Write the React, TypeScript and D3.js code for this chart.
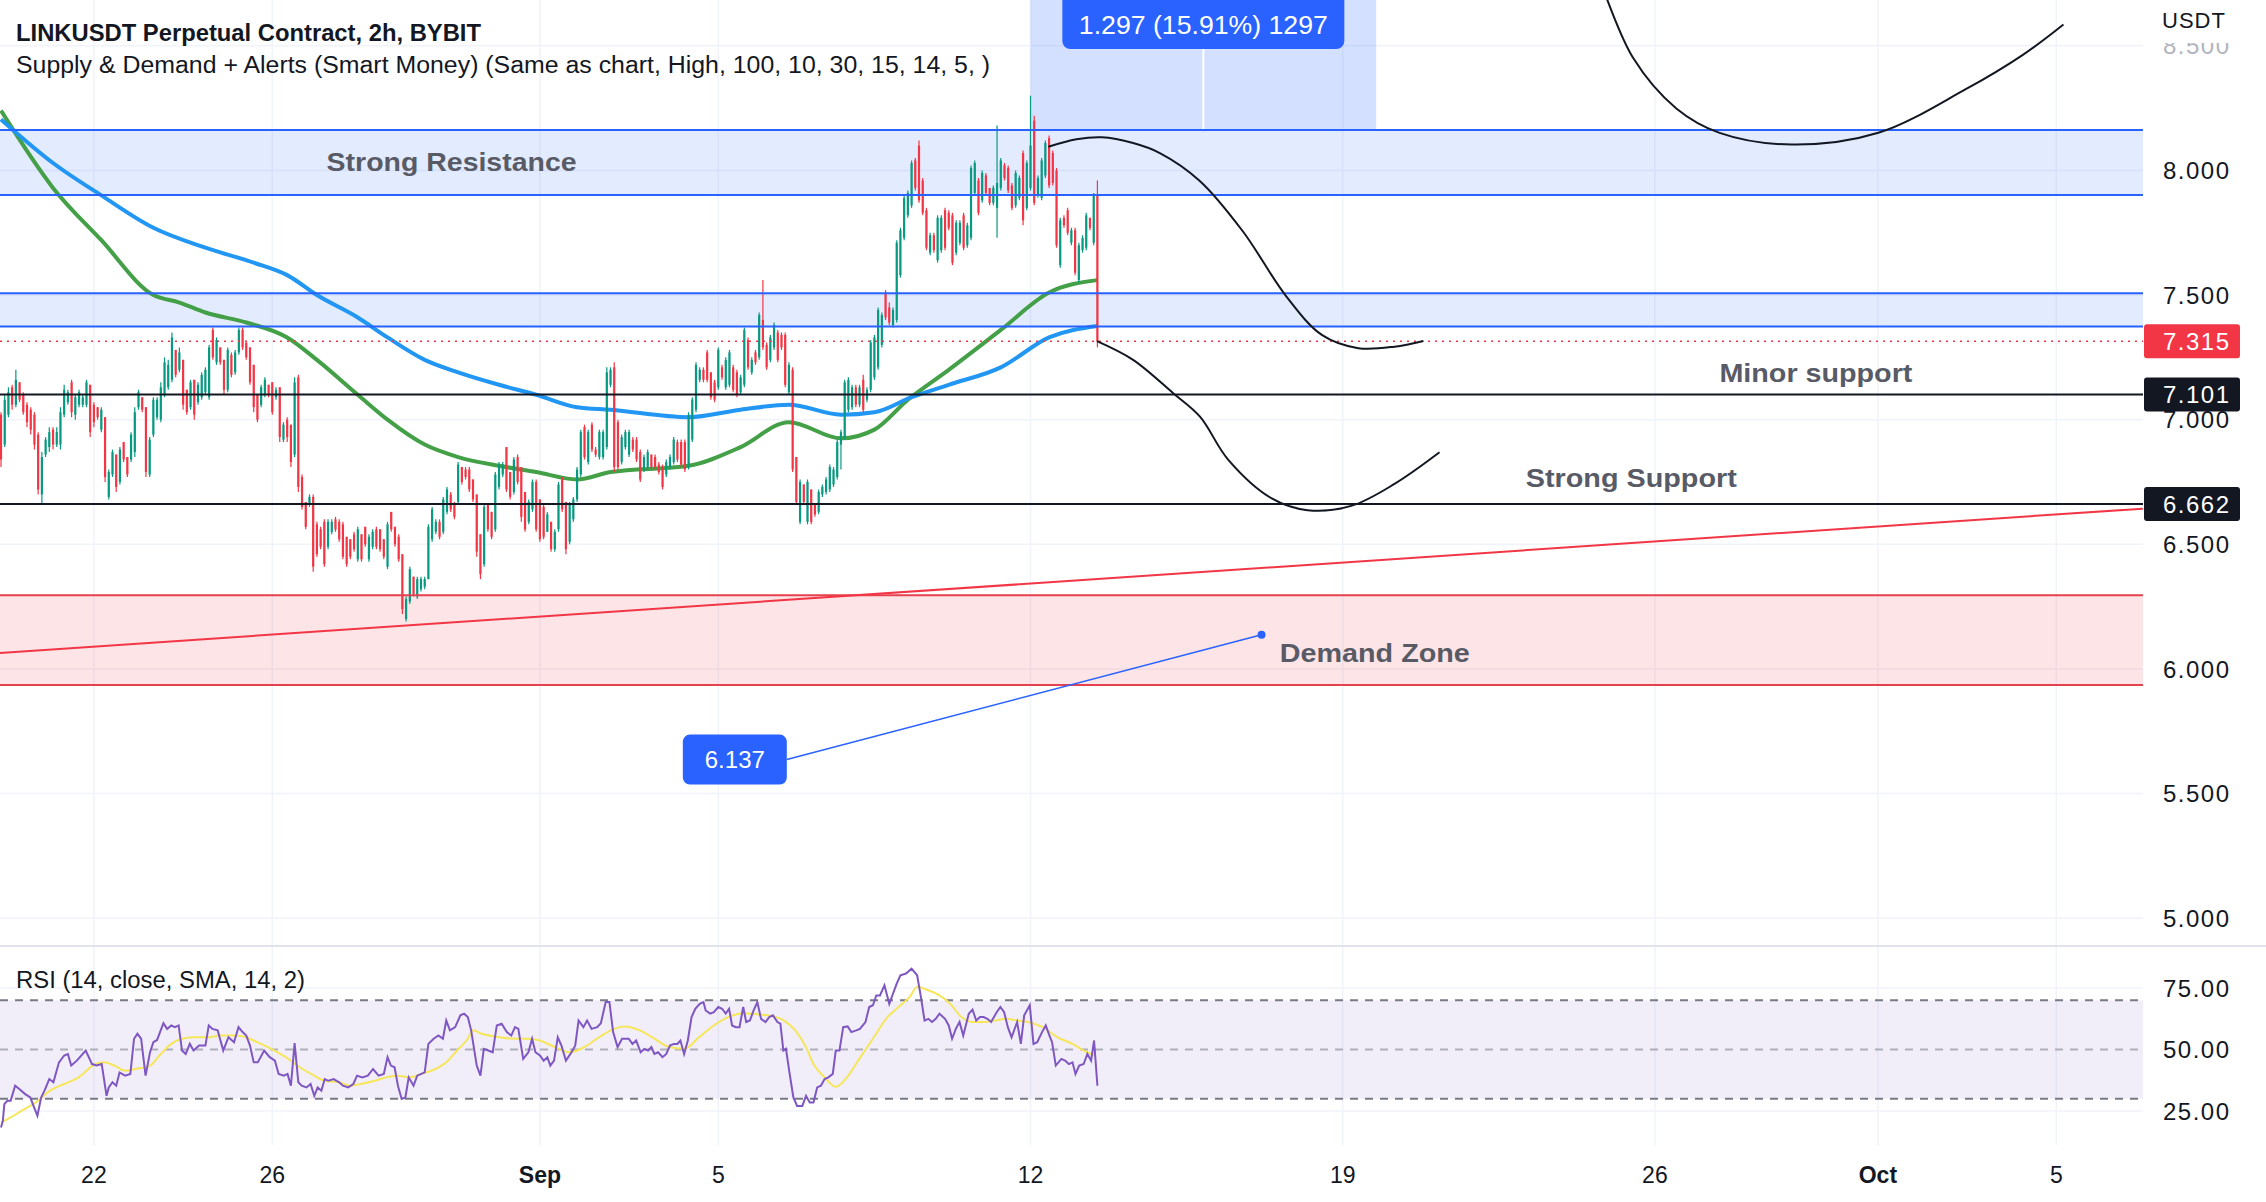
import { useEffect, useRef } from "react";
import * as d3 from "d3";

// ---------- data ----------
// 2h candles, first one opens 2023-08-19 22:00 UTC. [open, high, low, close]
const CANDLE_START = Date.UTC(2023, 7, 19, 22);
const CANDLES: [number, number, number, number][] = [
  [7.02,7.03,6.81,6.84],[6.90,7.10,6.89,7.08],[7.02,7.13,7.01,7.11],[7.13,7.14,7.04,7.06],[7.06,7.20,7.05,7.16],
  [7.15,7.15,7.07,7.08],[7.10,7.11,7.02,7.03],[7.06,7.07,6.97,6.99],[7.04,7.05,6.94,6.96],[7.02,7.03,6.88,6.90],
  [6.94,6.95,6.70,6.72],[6.70,6.87,6.66,6.85],[6.86,6.93,6.85,6.92],[6.89,6.97,6.87,6.95],[6.96,6.97,6.88,6.90],
  [6.90,6.97,6.89,6.95],[6.90,7.05,6.88,7.03],[7.02,7.14,7.01,7.12],[7.07,7.12,7.06,7.11],[7.15,7.16,7.01,7.03],
  [7.02,7.10,7.00,7.09],[7.06,7.12,7.05,7.11],[7.06,7.10,7.05,7.09],[7.06,7.16,7.05,7.15],[7.14,7.14,6.93,6.95],
  [7.06,7.07,6.97,6.99],[7.05,7.05,7.00,7.01],[6.96,7.05,6.95,7.04],[7.01,7.01,6.75,6.77],[6.69,6.80,6.68,6.79],
  [6.78,6.88,6.77,6.87],[6.86,6.86,6.71,6.73],[6.75,6.89,6.74,6.88],[6.91,6.91,6.83,6.84],[6.85,6.85,6.77,6.78],
  [6.84,6.95,6.83,6.94],[6.87,7.05,6.85,7.03],[7.05,7.12,7.04,7.11],[7.09,7.09,7.03,7.04],[7.05,7.05,6.77,6.79],
  [6.78,6.93,6.77,6.92],[6.94,7.09,6.93,7.08],[7.01,7.09,7.00,7.08],[7.00,7.15,6.99,7.13],[7.10,7.25,7.09,7.23],
  [7.13,7.24,7.12,7.22],[7.16,7.35,7.15,7.33],[7.28,7.28,7.17,7.18],[7.20,7.29,7.19,7.27],[7.24,7.24,7.04,7.06],
  [7.12,7.12,7.02,7.03],[7.05,7.16,7.04,7.15],[7.16,7.16,7.00,7.02],[7.07,7.15,7.06,7.14],[7.09,7.19,7.08,7.18],
  [7.11,7.21,7.10,7.20],[7.09,7.30,7.08,7.29],[7.36,7.37,7.24,7.25],[7.23,7.33,7.22,7.32],[7.29,7.29,7.22,7.23],
  [7.24,7.24,7.10,7.12],[7.12,7.29,7.11,7.28],[7.26,7.27,7.17,7.18],[7.19,7.28,7.18,7.27],[7.27,7.37,7.26,7.36],
  [7.36,7.37,7.28,7.29],[7.31,7.31,7.24,7.25],[7.29,7.29,7.14,7.15],[7.22,7.22,7.03,7.05],[7.10,7.10,6.99,7.00],
  [7.06,7.14,7.05,7.13],[7.10,7.17,7.09,7.16],[7.14,7.14,7.09,7.10],[7.15,7.15,7.02,7.03],[7.09,7.13,7.08,7.12],
  [7.13,7.13,6.91,6.93],[6.92,6.99,6.91,6.98],[7.00,7.01,6.91,6.93],[6.98,6.98,6.81,6.83],[6.86,7.17,6.85,7.15],
  [7.17,7.18,6.71,6.73],[6.77,6.78,6.64,6.65],[6.67,6.67,6.56,6.57],[6.66,6.70,6.65,6.69],[6.69,6.70,6.39,6.41],
  [6.58,6.59,6.45,6.46],[6.56,6.57,6.48,6.49],[6.59,6.60,6.41,6.42],[6.49,6.60,6.48,6.59],[6.55,6.60,6.54,6.59],
  [6.60,6.61,6.55,6.56],[6.59,6.60,6.51,6.52],[6.58,6.59,6.44,6.45],[6.53,6.53,6.41,6.42],[6.52,6.52,6.44,6.45],
  [6.54,6.55,6.47,6.48],[6.44,6.57,6.43,6.56],[6.54,6.54,6.43,6.44],[6.57,6.57,6.49,6.50],[6.44,6.54,6.43,6.53],
  [6.49,6.56,6.48,6.55],[6.56,6.57,6.48,6.49],[6.56,6.56,6.47,6.48],[6.52,6.52,6.44,6.45],[6.41,6.59,6.40,6.58],
  [6.63,6.63,6.55,6.56],[6.57,6.57,6.49,6.50],[6.53,6.54,6.43,6.44],[6.46,6.46,6.22,6.24],[6.20,6.29,6.19,6.28],
  [6.27,6.41,6.26,6.40],[6.37,6.37,6.29,6.30],[6.29,6.37,6.28,6.36],[6.32,6.37,6.31,6.36],[6.33,6.37,6.32,6.36],
  [6.36,6.58,6.36,6.57],[6.52,6.65,6.51,6.64],[6.55,6.60,6.54,6.59],[6.59,6.60,6.52,6.53],[6.55,6.69,6.54,6.68],
  [6.63,6.73,6.62,6.72],[6.70,6.71,6.63,6.64],[6.66,6.67,6.60,6.61],[6.67,6.83,6.66,6.82],[6.81,6.81,6.74,6.75],
  [6.80,6.81,6.76,6.77],[6.80,6.81,6.71,6.72],[6.76,6.76,6.67,6.68],[6.70,6.70,6.45,6.47],[6.54,6.54,6.36,6.38],
  [6.42,6.66,6.41,6.65],[6.66,6.66,6.55,6.56],[6.63,6.63,6.52,6.53],[6.56,6.79,6.55,6.78],[6.73,6.83,6.72,6.82],
  [6.78,6.83,6.77,6.82],[6.89,6.89,6.71,6.72],[6.79,6.79,6.68,6.69],[6.71,6.85,6.70,6.84],[6.85,6.86,6.74,6.75],
  [6.81,6.81,6.59,6.61],[6.71,6.71,6.55,6.56],[6.59,6.68,6.58,6.67],[6.64,6.76,6.63,6.75],[6.75,6.76,6.55,6.56],
  [6.68,6.68,6.51,6.52],[6.65,6.66,6.52,6.53],[6.55,6.63,6.55,6.62],[6.59,6.59,6.47,6.48],[6.48,6.56,6.47,6.55],
  [6.56,6.75,6.55,6.74],[6.77,6.77,6.63,6.64],[6.67,6.67,6.46,6.48],[6.51,6.67,6.50,6.66],[6.60,6.69,6.59,6.68],
  [6.68,6.81,6.67,6.80],[6.78,6.96,6.77,6.95],[6.97,6.98,6.84,6.85],[6.83,6.96,6.82,6.95],[6.98,6.99,6.87,6.88],
  [6.88,6.89,6.85,6.86],[6.85,6.96,6.84,6.95],[6.85,6.96,6.84,6.95],[6.89,7.21,6.88,7.19],[7.14,7.21,7.13,7.20],
  [7.21,7.23,6.79,6.81],[6.99,7.00,6.80,6.81],[6.83,6.94,6.82,6.93],[6.89,6.96,6.88,6.95],[6.86,6.96,6.85,6.95],
  [6.92,6.93,6.87,6.88],[6.92,6.93,6.83,6.84],[6.87,6.88,6.75,6.76],[6.80,6.86,6.79,6.85],[6.81,6.88,6.80,6.87],
  [6.86,6.86,6.80,6.81],[6.85,6.86,6.80,6.81],[6.82,6.83,6.78,6.79],[6.81,6.82,6.72,6.73],[6.78,6.84,6.77,6.83],
  [6.81,6.86,6.80,6.85],[6.83,6.93,6.82,6.92],[6.91,6.92,6.83,6.84],[6.91,6.92,6.81,6.82],[6.91,6.92,6.79,6.80],
  [6.81,7.03,6.80,7.02],[6.92,7.09,6.91,7.08],[7.04,7.23,7.03,7.22],[7.16,7.21,7.15,7.20],[7.20,7.21,7.15,7.16],
  [7.27,7.28,7.15,7.16],[7.19,7.19,7.08,7.09],[7.15,7.16,7.07,7.08],[7.13,7.29,7.12,7.28],[7.21,7.22,7.16,7.17],
  [7.13,7.25,7.12,7.24],[7.14,7.28,7.13,7.27],[7.21,7.22,7.11,7.12],[7.19,7.20,7.09,7.10],[7.11,7.18,7.10,7.17],
  [7.14,7.37,7.13,7.36],[7.32,7.33,7.20,7.21],[7.19,7.25,7.18,7.24],[7.27,7.28,7.22,7.23],[7.25,7.43,7.24,7.42],
  [7.40,7.56,7.28,7.29],[7.30,7.31,7.20,7.21],[7.24,7.34,7.23,7.33],[7.29,7.39,7.28,7.38],[7.35,7.36,7.23,7.24],
  [7.34,7.35,7.28,7.29],[7.34,7.35,7.13,7.14],[7.11,7.23,7.10,7.22],[7.20,7.21,6.79,6.80],[6.85,6.85,6.66,6.67],
  [6.59,6.76,6.58,6.75],[6.74,6.74,6.66,6.67],[6.59,6.76,6.58,6.75],[6.72,6.72,6.58,6.59],[6.66,6.66,6.61,6.62],
  [6.63,6.72,6.62,6.71],[6.70,6.74,6.69,6.73],[6.71,6.77,6.70,6.76],[6.72,6.82,6.71,6.81],[6.74,6.81,6.73,6.80],
  [6.77,6.92,6.76,6.91],[6.90,6.96,6.80,6.95],[6.93,7.16,6.92,7.15],[7.04,7.17,7.03,7.16],[7.05,7.14,7.04,7.13],
  [7.13,7.14,7.05,7.06],[7.06,7.14,7.05,7.13],[7.16,7.18,7.03,7.04],[7.08,7.13,7.07,7.12],[7.12,7.32,7.11,7.31],
  [7.17,7.34,7.16,7.33],[7.21,7.45,7.20,7.44],[7.30,7.43,7.29,7.42],[7.51,7.52,7.40,7.41],[7.45,7.47,7.38,7.39],
  [7.38,7.45,7.37,7.44],[7.40,7.72,7.39,7.71],[7.58,7.77,7.57,7.76],[7.73,7.90,7.72,7.89],[7.82,7.92,7.81,7.91],
  [7.86,8.04,7.85,8.03],[8.04,8.05,7.92,7.93],[8.10,8.12,7.87,7.88],[7.96,7.97,7.82,7.83],[7.84,7.85,7.68,7.69],
  [7.67,7.75,7.66,7.74],[7.74,7.75,7.67,7.68],[7.64,7.82,7.63,7.81],[7.68,7.82,7.67,7.81],[7.84,7.85,7.68,7.69],
  [7.83,7.84,7.76,7.77],[7.82,7.83,7.62,7.63],[7.67,7.80,7.66,7.79],[7.71,7.80,7.70,7.79],[7.82,7.83,7.68,7.69],
  [7.70,7.79,7.69,7.78],[7.73,8.02,7.72,8.01],[7.91,8.04,7.90,8.03],[7.96,7.97,7.82,7.83],[7.88,8.00,7.87,7.99],
  [7.98,7.99,7.90,7.91],[7.93,7.93,7.86,7.87],[7.87,7.94,7.86,7.93],[7.85,8.18,7.73,7.95],[7.93,8.05,7.92,8.04],
  [8.02,8.03,7.96,7.97],[8.01,8.02,7.91,7.92],[7.94,7.95,7.84,7.85],[7.86,8.00,7.85,7.99],[7.89,7.98,7.88,7.97],
  [8.07,8.08,7.78,7.80],[7.85,8.04,7.84,8.03],[7.93,8.30,7.92,8.10],[8.20,8.22,7.86,7.87],[7.90,7.98,7.89,7.97],
  [7.89,8.05,7.88,8.04],[7.98,8.12,7.97,8.11],[8.13,8.14,7.93,7.94],[8.07,8.08,7.94,7.95],[8.00,8.01,7.69,7.70],
  [7.62,7.81,7.61,7.80],[7.81,7.82,7.77,7.78],[7.84,7.85,7.74,7.75],[7.71,7.77,7.70,7.76],[7.76,7.77,7.58,7.59],
  [7.56,7.71,7.55,7.70],[7.68,7.74,7.67,7.73],[7.69,7.83,7.68,7.82],[7.81,7.81,7.76,7.77],[7.71,7.91,7.70,7.90],
  [7.90,7.96,7.29,7.315],
];

// moving averages read at a few points: [candle index, value]
const MA_GREEN: [number, number][] = [
  [0,8.24],[14,7.93],[27,7.72],[41,7.50],[48,7.47],[55,7.43],[66,7.39],[77,7.33],[85,7.24],[96,7.10],
  [104,7.00],[114,6.90],[123,6.85],[134,6.815],[144,6.79],[155,6.76],[164,6.79],[185,6.815],[199,6.89],
  [212,6.99],[226,6.925],[235,6.96],[244,7.08],[255,7.20],[269,7.36],[282,7.51],[295,7.56],
];
const MA_BLUE: [number, number][] = [
  [0,8.205],[14,8.03],[27,7.90],[41,7.77],[55,7.69],[68,7.63],[77,7.58],[85,7.50],[96,7.41],[104,7.33],
  [114,7.24],[123,7.19],[134,7.14],[144,7.10],[155,7.05],[164,7.04],[185,7.01],[199,7.04],[212,7.06],
  [226,7.02],[235,7.03],[245,7.09],[255,7.14],[269,7.21],[282,7.33],[295,7.376],
];

// RSI(14) and its SMA: [candle index, value]
const RSI: [number, number][] = [
  [0,18.3],[0.5,21.0],[0.9,27.8],[1.7,29.2],[2.6,29.2],[3.8,35.3],[5.0,33.9],[6.5,31.9],[7.9,30.5],[8.9,26.5],
  [9.8,23.1],[10.8,30.5],[11.7,33.3],[13.0,38.0],[14.1,36.7],[15.6,44.8],[17.0,47.6],[18.0,48.2],[18.9,43.5],
  [20.4,45.5],[22.8,49.6],[24.5,44.1],[25.7,43.5],[27.1,44.1],[28.4,31.2],[29.0,34.6],[30.0,36.7],[31.0,35.3],
  [31.9,40.7],[33.4,39.4],[34.8,40.1],[35.8,54.4],[36.7,56.4],[37.7,54.4],[38.9,39.4],[40.1,48.9],[41.0,53.0],
  [42.0,53.9],[43.7,60.7],[44.7,58.4],[45.8,59.8],[46.8,59.1],[47.8,59.8],[48.7,49.6],[49.7,48.2],[50.8,52.3],
  [51.8,49.6],[53.3,51.6],[55.0,51.6],[55.9,59.8],[56.9,58.4],[58.3,57.8],[59.8,49.6],[61.2,55.0],[62.7,53.0],
  [63.9,59.1],[65.0,57.1],[66.0,55.7],[67.0,51.6],[68.0,44.8],[69.1,44.8],[70.8,49.6],[72.3,46.9],[73.7,45.5],
  [74.7,40.1],[76.1,39.4],[77.1,40.1],[78.0,35.3],[79.0,52.6],[80.0,36.7],[80.9,35.3],[82.2,34.6],[83.3,36.0],
  [84.3,31.2],[85.2,34.6],[86.2,33.3],[87.1,38.0],[88.1,37.3],[89.5,38.0],[91.0,36.7],[92.0,35.3],[93.4,34.6],
  [94.8,36.0],[95.8,39.4],[97.2,38.7],[98.7,39.4],[100.1,42.1],[101.6,39.4],[103.0,40.1],[104.0,46.9],[104.9,43.5],
  [105.9,42.8],[106.8,35.3],[107.8,29.9],[108.8,30.5],[109.7,38.7],[111.0,35.3],[112.0,39.4],[113.1,40.1],
  [114.0,40.7],[115.0,52.3],[116.4,54.4],[117.7,55.7],[118.9,54.4],[119.8,61.8],[120.8,57.8],[122.2,59.1],
  [123.6,63.9],[124.6,64.6],[125.6,63.2],[126.5,57.8],[128.0,43.5],[129.0,39.4],[129.9,50.3],[131.1,49.6],
  [132.3,48.9],[133.4,59.8],[134.7,60.5],[136.1,57.1],[137.3,55.7],[138.3,59.1],[139.2,58.4],[140.5,46.2],
  [141.9,48.9],[142.9,54.4],[143.8,48.9],[145.0,47.6],[146.0,45.5],[147.0,46.9],[147.8,43.5],[148.8,45.5],
  [149.8,55.0],[150.8,51.6],[152.0,45.5],[153.5,48.9],[154.5,51.6],[155.4,61.8],[156.7,59.1],[157.7,61.8],
  [158.9,58.4],[160.4,59.1],[161.4,60.7],[162.7,69.3],[163.7,69.3],[164.7,57.1],[165.9,51.0],[167.1,54.4],
  [168.9,54.4],[169.9,52.3],[170.9,53.7],[172.1,48.9],[173.1,50.3],[174.1,49.6],[175.0,51.0],[175.8,48.2],
  [176.8,48.9],[178.0,46.9],[179.0,48.2],[180.0,51.6],[181.0,52.3],[182.0,52.3],[182.8,53.7],[183.8,48.2],
  [184.8,53.7],[185.8,63.2],[186.8,66.6],[188.0,68.6],[189.0,69.3],[189.6,65.9],[190.8,64.6],[191.8,65.2],
  [193.0,67.3],[194.0,66.6],[195.0,64.6],[195.9,66.6],[196.7,59.8],[197.7,59.1],[198.7,59.1],[199.7,67.3],
  [200.5,61.2],[201.5,61.8],[202.5,65.9],[203.5,69.3],[204.5,62.5],[205.7,61.2],[206.7,63.2],[207.7,63.9],
  [208.9,61.2],[209.7,60.5],[210.5,49.6],[211.2,50.3],[212.2,40.1],[213.2,30.5],[214.2,27.1],[215.6,27.1],
  [216.6,31.2],[217.6,28.5],[218.6,28.5],[219.6,34.6],[220.6,35.3],[221.6,38.0],[222.6,38.7],[223.8,40.1],
  [224.6,49.6],[225.6,49.6],[226.6,59.1],[227.8,59.4],[228.8,57.1],[230.1,57.8],[231.1,58.4],[232.6,61.2],
  [233.6,67.3],[234.6,68.0],[235.5,72.0],[236.5,72.0],[237.7,76.1],[239.0,68.6],[240.0,72.7],[241.0,76.8],
  [242.0,80.2],[243.5,80.9],[245.0,82.9],[246.5,80.2],[247.5,71.4],[248.5,61.8],[249.5,62.5],[250.5,61.2],
  [251.5,62.5],[252.5,64.6],[254.0,62.5],[255.0,59.8],[255.9,54.4],[256.9,58.4],[257.9,61.2],[258.9,55.7],
  [260.4,64.6],[261.4,66.2],[262.4,61.8],[263.4,63.2],[264.4,63.2],[265.4,62.5],[266.4,61.2],[267.9,65.2],
  [268.9,67.3],[269.9,65.2],[270.9,59.1],[271.9,55.0],[273.4,61.2],[274.4,52.3],[275.3,63.9],[276.8,68.0],
  [277.8,52.3],[278.8,53.0],[280.1,57.1],[281.1,59.8],[282.1,55.7],[282.8,53.0],[283.8,43.5],[285.3,46.2],
  [286.3,45.5],[287.3,44.1],[288.3,44.8],[289.1,40.1],[290.1,43.5],[291.3,44.1],[292.3,48.2],[293.3,45.5],
  [294.1,53.7],[295.0,35.3],
];
const RSI_SMA: [number, number][] = [
  [0,20.3],[2.6,22.4],[5.5,25.1],[9.3,28.5],[13.2,33.3],[17.0,36.0],[20.9,38.7],[24.7,43.5],[27.6,44.8],
  [30.5,43.5],[33.4,41.4],[36.2,42.1],[40.1,43.5],[43.0,48.2],[45.8,52.3],[48.7,54.4],[51.6,55.0],[55.4,55.0],
  [59.3,55.7],[63.1,55.7],[66.0,55.0],[68.9,53.0],[72.7,50.3],[76.6,46.9],[80.4,42.8],[84.3,39.4],[87.2,37.3],
  [91.0,36.7],[93.9,35.3],[96.8,36.0],[100.6,37.3],[103.5,38.7],[106.4,39.4],[110.2,38.7],[113.1,40.1],
  [116.9,42.1],[119.8,44.8],[122.7,49.6],[125.6,54.4],[127.0,57.8],[129.4,56.4],[134.2,55.0],[138.1,54.4],
  [141.9,54.4],[145.0,53.7],[149.0,51.0],[153.0,48.9],[156.9,51.0],[160.9,55.0],[164.9,58.4],[167.9,59.4],
  [171.9,57.8],[175.8,54.4],[179.8,51.0],[183.8,50.3],[187.8,55.0],[191.8,59.8],[195.7,63.2],[199.7,64.8],
  [203.7,64.3],[207.7,63.5],[210.7,61.8],[213.7,57.8],[216.6,51.0],[218.6,44.1],[221.6,38.7],[224.6,34.9],
  [227.6,38.7],[230.6,45.5],[234.6,54.4],[238.5,63.2],[241.5,67.3],[244.5,71.4],[246.5,75.4],[249.5,74.1],
  [252.5,72.0],[255.4,68.6],[258.4,63.2],[261.4,61.2],[264.4,61.2],[267.4,61.8],[270.4,62.5],[273.4,61.8],
  [276.3,61.2],[280.3,59.1],[284.3,55.0],[288.3,52.3],[291.3,49.6],[294.3,47.6],
];

const PRICE_TICKS = [8.5, 8, 7.5, 7, 6.5, 6, 5.5, 5];
const RSI_TICKS = [75, 50, 25];
const RSI_BANDS = [70, 50, 30];
const DATE_TICKS = ["2023-08-22", "2023-08-26", "2023-09-01", "2023-09-05", "2023-09-12", "2023-09-19", "2023-09-26", "2023-10-01", "2023-10-05"];
const DATE_LABELS = ["22", "26", "Sep", "5", "12", "19", "26", "Oct", "5"];

// drawings (x in days after 2023-08-22 00:00 UTC, y in price)
const SUPPLY_ZONES: [number, number][] = [[8.1625, 7.902], [7.507, 7.374]];
const DEMAND_ZONE: [number, number] = [6.295, 5.935];
const LEVELS = [7.101, 6.662];
const LAST_PRICE = 7.315;
const TREND: [number, number][] = [[-2.11, 6.064], [45.94, 6.643]];
const MEASURE = { from: 21, to: 28.75, low: 8.1625, high: 9.46, label: "1.297 (15.91%) 1297" };
const PATH_TOP: [number, number][] = [[33.8,8.75],[34.51,8.452],[35.48,8.249],[36.45,8.151],[38.07,8.104],[40.01,8.151],[41.96,8.325],[43.25,8.464],[44.16,8.586]];
const PATH_A: [number, number][] = [[21.4,8.095],[22.03,8.125],[22.6,8.133],[23.3,8.11],[23.9,8.07],[24.79,7.959],[25.76,7.756],[26.73,7.496],[27.54,7.339],[28.35,7.287],[29.16,7.293],[29.81,7.316]];
const PATH_B: [number, number][] = [[22.49,7.315],[23.3,7.24],[24.2,7.106],[24.8,7.012],[25.43,6.84],[26.41,6.684],[27.21,6.637],[28.19,6.654],[29.16,6.742],[30.17,6.869]];
const NOTES = [
  { text: "Strong Resistance", day: 8.02, price: 8.035, width: 250 },
  { text: "Minor support", day: 38.61, price: 7.187, width: 193 },
  { text: "Strong Support", day: 34.47, price: 6.766, width: 211 },
  { text: "Demand Zone", day: 28.72, price: 6.064, width: 190 },
];
const CALLOUT = { text: "6.137", day: 14.37, price: 5.636, targetDay: 26.18, targetPrice: 6.137 };

const W = 2266, H = 1202;
const PLOT_W = 2143, MAIN_H = 946, RSI_BOTTOM = 1145;
const FONT = "'Liberation Sans', Arial, sans-serif";
const UP = "#089981", DOWN = "#f23645", BLUE = "#2962ff", INK = "#131722";

export default function App() {
  const ref = useRef<SVGSVGElement>(null);

  useEffect(() => {
    if (!ref.current) return;
    const svg = d3.select(ref.current);
    svg.selectAll("*").remove();

    const x = d3.scaleUtc()
      .domain([new Date(Date.UTC(2023, 7, 19, 21, 28)), new Date(Date.UTC(2023, 9, 6, 22, 39))])
      .range([0, PLOT_W]);
    const y = d3.scaleLinear().domain([4.888, 8.684]).range([MAIN_H, 0]);
    const yr = d3.scaleLinear().domain([11.2, 92.1]).range([RSI_BOTTOM, MAIN_H]);
    const ci = (i: number) => new Date(CANDLE_START + i * 72e5);
    const dd = (d: number) => new Date(Date.UTC(2023, 7, 22) + d * 864e5);
    const xi = (i: number) => x(ci(i));
    const xd = (d: number) => x(dd(d));

    svg.append("rect").attr("width", W).attr("height", H).attr("fill", "#fff");

    const defs = svg.append("defs");
    defs.append("clipPath").attr("id", "mainClip").append("rect").attr("width", PLOT_W).attr("height", MAIN_H);
    defs.append("clipPath").attr("id", "rsiClip").append("rect").attr("y", MAIN_H).attr("width", PLOT_W).attr("height", RSI_BOTTOM - MAIN_H);
    defs.append("clipPath").attr("id", "axisTopClip").append("rect").attr("x", PLOT_W).attr("y", 43).attr("width", W - PLOT_W).attr("height", 40);

    // grid
    const grid = svg.append("g").attr("stroke", "#f0f3fa").attr("stroke-width", 1.5);
    DATE_TICKS.forEach((t) => {
      const gx = x(new Date(t + "T00:00:00Z"));
      grid.append("line").attr("x1", gx).attr("x2", gx).attr("y1", 0).attr("y2", RSI_BOTTOM);
    });
    PRICE_TICKS.forEach((p) => grid.append("line").attr("x1", 0).attr("x2", PLOT_W).attr("y1", y(p)).attr("y2", y(p)));
    [75, 25].forEach((v) => grid.append("line").attr("x1", 0).attr("x2", PLOT_W).attr("y1", yr(v)).attr("y2", yr(v)));

    const main = svg.append("g").attr("clip-path", "url(#mainClip)");

    // zone fills
    SUPPLY_ZONES.forEach(([a, b]) => {
      main.append("rect").attr("x", 0).attr("width", PLOT_W).attr("y", y(a)).attr("height", y(b) - y(a))
        .attr("fill", "rgba(41,98,255,0.13)");
    });
    main.append("rect").attr("x", 0).attr("width", PLOT_W).attr("y", y(DEMAND_ZONE[0]))
      .attr("height", y(DEMAND_ZONE[1]) - y(DEMAND_ZONE[0])).attr("fill", "rgba(242,54,69,0.13)");

    // measure box
    const mx0 = xd(MEASURE.from), mx1 = xd(MEASURE.to);
    main.append("rect").attr("x", mx0).attr("width", mx1 - mx0).attr("y", y(MEASURE.high))
      .attr("height", y(MEASURE.low) - y(MEASURE.high)).attr("fill", "rgba(41,98,255,0.2)");
    main.append("line").attr("x1", (mx0 + mx1) / 2).attr("x2", (mx0 + mx1) / 2)
      .attr("y1", 48).attr("y2", y(MEASURE.low)).attr("stroke", "#fff").attr("stroke-width", 2);

    // moving averages
    const maLine = d3.line<[number, number]>().x((d) => xi(d[0])).y((d) => y(d[1])).curve(d3.curveMonotoneX);
    main.append("path").datum(MA_GREEN).attr("d", maLine).attr("fill", "none").attr("stroke", "#43a047").attr("stroke-width", 4);
    main.append("path").datum(MA_BLUE).attr("d", maLine).attr("fill", "none").attr("stroke", "#2196f3").attr("stroke-width", 4);

    // candles
    const cg = main.append("g");
    CANDLES.forEach(([o, h, l, c], i) => {
      const cx = xi(i);
      const col = c >= o ? UP : DOWN;
      cg.append("line").attr("x1", cx).attr("x2", cx).attr("y1", y(h)).attr("y2", y(l)).attr("stroke", col).attr("stroke-width", 1.2);
      const top = y(Math.max(o, c)), bot = y(Math.min(o, c));
      cg.append("rect").attr("x", cx - 1.1).attr("width", 2.2).attr("y", top).attr("height", Math.max(1, bot - top)).attr("fill", col);
    });

    // zone borders & levels
    SUPPLY_ZONES.forEach(([a, b]) => {
      [a, b].forEach((p) => main.append("line").attr("x1", 0).attr("x2", PLOT_W).attr("y1", y(p)).attr("y2", y(p))
        .attr("stroke", BLUE).attr("stroke-width", 2));
    });
    DEMAND_ZONE.forEach((p) => main.append("line").attr("x1", 0).attr("x2", PLOT_W).attr("y1", y(p)).attr("y2", y(p))
      .attr("stroke", "#e5414e").attr("stroke-width", 2));
    LEVELS.forEach((p) => main.append("line").attr("x1", 0).attr("x2", PLOT_W).attr("y1", y(p)).attr("y2", y(p))
      .attr("stroke", INK).attr("stroke-width", 2));
    main.append("line").attr("x1", 0).attr("x2", PLOT_W).attr("y1", y(LAST_PRICE)).attr("y2", y(LAST_PRICE))
      .attr("stroke", DOWN).attr("stroke-width", 1.5).attr("stroke-dasharray", "2,5");
    main.append("line").attr("x1", xd(TREND[0][0])).attr("x2", xd(TREND[1][0]))
      .attr("y1", y(TREND[0][1])).attr("y2", y(TREND[1][1])).attr("stroke", DOWN).attr("stroke-width", 2);

    // hand drawn paths
    const free = d3.line<[number, number]>().x((d) => xd(d[0])).y((d) => y(d[1])).curve(d3.curveCatmullRom.alpha(0.5));
    [PATH_TOP, PATH_A, PATH_B].forEach((p) => main.append("path").datum(p).attr("d", free)
      .attr("fill", "none").attr("stroke", INK).attr("stroke-width", 2));

    // notes
    NOTES.forEach((n) => {
      main.append("text").attr("x", xd(n.day)).attr("y", y(n.price)).attr("dy", "0.36em")
        .attr("text-anchor", "middle").attr("font-family", FONT).attr("font-weight", 700).attr("font-size", 26)
        .attr("fill", "#585b66").attr("textLength", n.width).attr("lengthAdjust", "spacingAndGlyphs").text(n.text);
    });

    // callout
    const lx = xd(CALLOUT.day), ly = y(CALLOUT.price);
    main.append("line").attr("x1", lx + 52).attr("y1", ly).attr("x2", xd(CALLOUT.targetDay)).attr("y2", y(CALLOUT.targetPrice))
      .attr("stroke", BLUE).attr("stroke-width", 1.5);
    main.append("circle").attr("cx", xd(CALLOUT.targetDay)).attr("cy", y(CALLOUT.targetPrice)).attr("r", 4).attr("fill", BLUE);
    main.append("rect").attr("x", lx - 52).attr("y", ly - 25).attr("width", 104).attr("height", 50).attr("rx", 7).attr("fill", BLUE);
    main.append("text").attr("x", lx).attr("y", ly).attr("dy", "0.36em").attr("text-anchor", "middle")
      .attr("font-family", FONT).attr("font-size", 24).attr("fill", "#fff").text(CALLOUT.text);

    // measure label
    const mc = (mx0 + mx1) / 2;
    main.append("rect").attr("x", mc - 141).attr("y", -8).attr("width", 282).attr("height", 57).attr("rx", 8).attr("fill", BLUE);
    main.append("text").attr("x", mc).attr("y", 25).attr("dy", "0.36em").attr("text-anchor", "middle")
      .attr("font-family", FONT).attr("font-size", 26).attr("fill", "#fff")
      .attr("textLength", 249).attr("lengthAdjust", "spacingAndGlyphs").text(MEASURE.label);

    // pane separator
    svg.append("line").attr("x1", 0).attr("x2", W).attr("y1", MAIN_H).attr("y2", MAIN_H).attr("stroke", "#e0e3eb").attr("stroke-width", 2);

    // RSI pane
    const rsi = svg.append("g").attr("clip-path", "url(#rsiClip)");
    rsi.append("rect").attr("x", 0).attr("width", PLOT_W).attr("y", yr(RSI_BANDS[0]))
      .attr("height", yr(RSI_BANDS[2]) - yr(RSI_BANDS[0])).attr("fill", "rgba(126,87,194,0.1)");
    RSI_BANDS.forEach((v, k) => rsi.append("line").attr("x1", 0).attr("x2", PLOT_W).attr("y1", yr(v)).attr("y2", yr(v))
      .attr("stroke", "#787b86").attr("stroke-opacity", k === 1 ? 0.55 : 1).attr("stroke-width", 2).attr("stroke-dasharray", "8,7"));
    const rl = d3.line<[number, number]>().x((d) => xi(d[0])).y((d) => yr(d[1]));
    rsi.append("path").datum(RSI_SMA).attr("d", rl.curve(d3.curveMonotoneX)).attr("fill", "none").attr("stroke", "#f5e65a").attr("stroke-width", 2);
    rsi.append("path").datum(RSI).attr("d", rl.curve(d3.curveLinear)).attr("fill", "none").attr("stroke", "#7e57c2").attr("stroke-width", 2);

    // price axis
    const ax = svg.append("g").attr("font-family", FONT).attr("font-size", 24).attr("letter-spacing", 1.5);
    PRICE_TICKS.forEach((p) => {
      const hidden = p > 8.2;
      ax.append("text").attr("x", 2163).attr("y", y(p)).attr("dy", "0.36em")
        .attr("clip-path", hidden ? "url(#axisTopClip)" : null)
        .attr("fill", hidden ? "#b2b5be" : INK).text(d3.format(".3f")(p));
    });
    ax.append("text").attr("x", 2162).attr("y", 20).attr("dy", "0.36em").attr("font-size", 22).attr("fill", INK).attr("letter-spacing", 1).text("USDT");
    const tag = (p: number, fill: string) => {
      ax.append("rect").attr("x", PLOT_W + 1).attr("y", y(p) - 17).attr("width", 96).attr("height", 34).attr("rx", 3).attr("fill", fill);
      ax.append("text").attr("x", 2163).attr("y", y(p)).attr("dy", "0.36em").attr("fill", "#fff").text(d3.format(".3f")(p));
    };
    tag(LAST_PRICE, DOWN);
    LEVELS.forEach((p) => tag(p, INK));
    RSI_TICKS.forEach((v) => {
      ax.append("text").attr("x", 2163).attr("y", yr(v)).attr("dy", "0.36em").attr("fill", INK).text(d3.format(".2f")(v));
    });

    // time axis
    DATE_TICKS.forEach((t, k) => {
      const lab = DATE_LABELS[k];
      svg.append("text").attr("x", x(new Date(t + "T00:00:00Z"))).attr("y", 1175).attr("dy", "0.36em")
        .attr("text-anchor", "middle").attr("font-family", FONT).attr("font-size", 23)
        .attr("font-weight", /^[A-Z]/.test(lab) ? 700 : 400).attr("fill", INK).text(lab);
    });

    // legends
    svg.append("text").attr("x", 16).attr("y", 33).attr("dy", "0.36em").attr("font-family", FONT)
      .attr("font-size", 23).attr("font-weight", 700).attr("fill", INK)
      .attr("textLength", 465).attr("lengthAdjust", "spacingAndGlyphs").text("LINKUSDT Perpetual Contract, 2h, BYBIT");
    svg.append("text").attr("x", 16).attr("y", 65).attr("dy", "0.36em").attr("font-family", FONT)
      .attr("font-size", 23).attr("fill", INK).attr("textLength", 974).attr("lengthAdjust", "spacingAndGlyphs")
      .text("Supply & Demand + Alerts (Smart Money) (Same as chart, High, 100, 10, 30, 15, 14, 5, )");
    svg.append("text").attr("x", 16).attr("y", 980).attr("dy", "0.36em").attr("font-family", FONT)
      .attr("font-size", 23).attr("fill", INK).attr("textLength", 289).attr("lengthAdjust", "spacingAndGlyphs")
      .text("RSI (14, close, SMA, 14, 2)");
  }, []);

  return (
    <>
      <style>{"body{margin:0}"}</style>
      <svg ref={ref} width={W} height={H} style={{ display: "block" }} />
    </>
  );
}
